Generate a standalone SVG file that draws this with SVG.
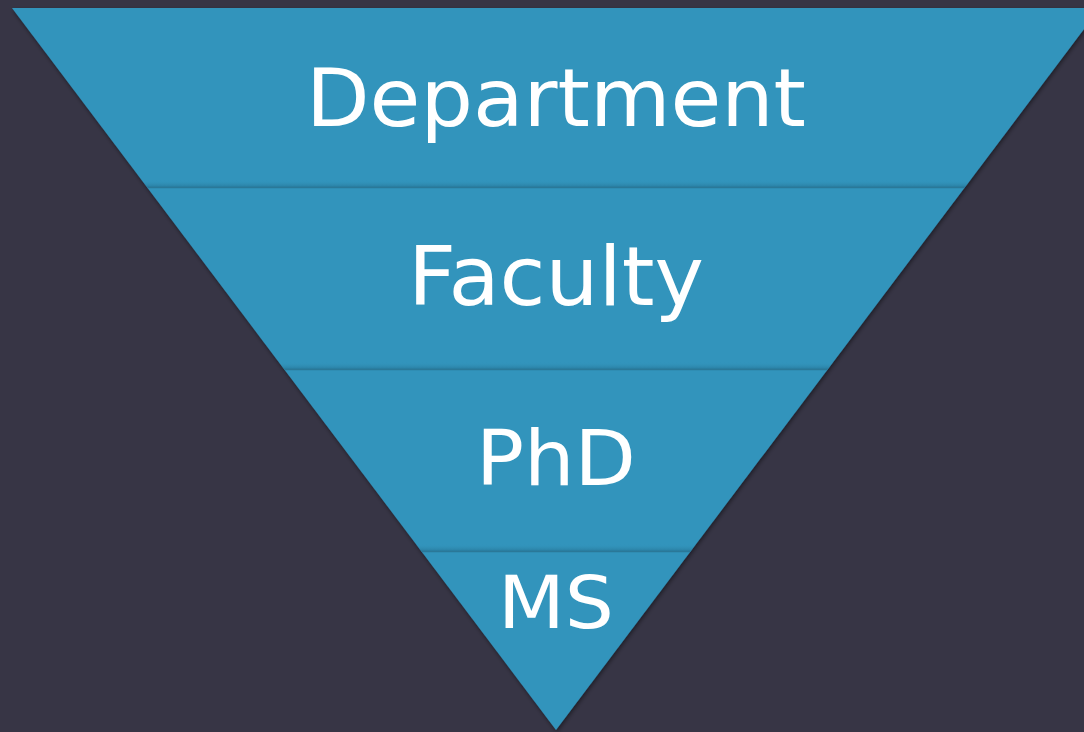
<svg xmlns="http://www.w3.org/2000/svg" width="1084" height="732" viewBox="0 0 1084 732">
  <defs>
    <filter id="sh" x="-10%" y="-10%" width="120%" height="120%">
      <feGaussianBlur in="SourceAlpha" stdDeviation="2"/>
      <feOffset dx="1" dy="2" result="b"/>
      <feFlood flood-color="#000" flood-opacity="0.45"/>
      <feComposite in2="b" operator="in"/>
      <feMerge><feMergeNode/><feMergeNode in="SourceGraphic"/></feMerge>
    </filter>
    <linearGradient id="div" x1="0" y1="0" x2="0" y2="1">
      <stop offset="0" stop-color="#3294bc" stop-opacity="0"/>
      <stop offset="1" stop-color="#236f8f" stop-opacity="0.6"/>
    </linearGradient>
    <clipPath id="tri"><polygon points="12,8 1100,8 556,730"/></clipPath>
  </defs>
  <style>
    .lbl { font-family: "DejaVu Sans", "Liberation Sans", sans-serif; fill: #ffffff; text-anchor: middle; }
    .dv { stroke: #2a7898; stroke-width: 1.5; }
  </style>
  <rect width="1084" height="732" fill="#373545"/>
  <polygon points="12,8 1100,8 556,730" fill="#3294bc" filter="url(#sh)"/>
  <g id="connectors" clip-path="url(#tri)">
    <rect x="0" y="180" width="1100" height="7" fill="url(#div)"/>
    <line class="dv" x1="0" y1="187.5" x2="1100" y2="187.5"/>
    <rect x="0" y="362" width="1100" height="7" fill="url(#div)"/>
    <line class="dv" x1="0" y1="369.5" x2="1100" y2="369.5"/>
    <rect x="0" y="544" width="1100" height="7" fill="url(#div)"/>
    <line class="dv" x1="0" y1="551.5" x2="1100" y2="551.5"/>
  </g>
  <g id="department"><text class="lbl" x="556" y="126" font-size="80" textLength="500" lengthAdjust="spacingAndGlyphs">Department</text></g>
  <g id="faculty"><text class="lbl" x="556" y="305" font-size="82" textLength="296" lengthAdjust="spacingAndGlyphs">Faculty</text></g>
  <g id="phd"><text class="lbl" x="556" y="485" font-size="76" textLength="160" lengthAdjust="spacingAndGlyphs">PhD</text></g>
  <g id="ms"><text class="lbl" x="556" y="628" font-size="73" textLength="116" lengthAdjust="spacingAndGlyphs">MS</text></g>
</svg>
